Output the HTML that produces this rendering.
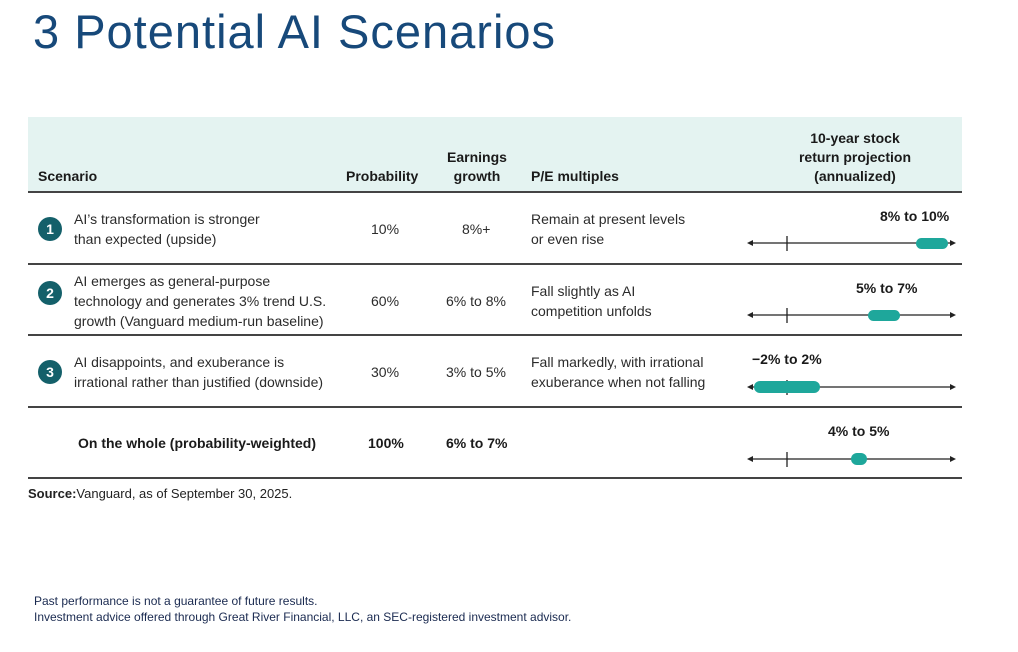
<!DOCTYPE html>
<html><head><meta charset="utf-8"><style>
body{margin:0;width:1018px;height:652px;background:#fff;position:relative;overflow:hidden;font-family:"Liberation Sans",sans-serif;color:#222}
.a{position:absolute;white-space:nowrap}
.t{font-size:14px;line-height:20px;color:#2b2b2b}
.b{font-weight:bold;font-size:14px;line-height:19px;color:#1a1a1a}
.c{text-align:center}
.hl{position:absolute;left:28px;width:934px;height:2px;background:#444}
.num{position:absolute;left:38px;width:24px;height:24px;border-radius:50%;background:#14606a;color:#fff;font-weight:bold;font-size:14px;line-height:24px;text-align:center}
</style></head><body>
<div class="a" style="left:33px;top:4px;font-size:47px;line-height:56px;color:#17497a;letter-spacing:1px">3 Potential AI Scenarios</div>
<div class="a" style="left:28px;top:117px;width:934px;height:75px;background:#e4f3f1"></div>
<div class="a b" style="left:38px;top:167px">Scenario</div>
<div class="a b" style="left:346px;top:167px">Probability</div>
<div class="a b c" style="left:440px;top:148px;width:74px">Earnings<br>growth</div>
<div class="a b" style="left:531px;top:167px">P/E multiples</div>
<div class="a b c" style="left:760px;top:129px;width:190px;line-height:19px">10-year stock<br>return projection<br>(annualized)</div>
<div class="hl" style="top:191px"></div>
<div class="hl" style="top:263px"></div>
<div class="hl" style="top:334px"></div>
<div class="hl" style="top:406px"></div>
<div class="hl" style="top:477px"></div>

<div class="num" style="top:217px">1</div>
<div class="a t" style="left:74px;top:209px">AI’s transformation is stronger<br>than expected (upside)</div>
<div class="a t" style="left:371px;top:219px">10%</div>
<div class="a t" style="left:462px;top:219px">8%+</div>
<div class="a t" style="left:531px;top:209px">Remain at present levels<br>or even rise</div>
<div class="a b" style="left:880px;top:207px">8% to 10%</div>

<div class="num" style="top:281px">2</div>
<div class="a t" style="left:74px;top:271px">AI emerges as general-purpose<br>technology and generates 3% trend U.S.<br>growth (Vanguard medium-run baseline)</div>
<div class="a t" style="left:371px;top:291px">60%</div>
<div class="a t" style="left:446px;top:291px">6% to 8%</div>
<div class="a t" style="left:531px;top:281px">Fall slightly as AI<br>competition unfolds</div>
<div class="a b" style="left:856px;top:279px">5% to 7%</div>

<div class="num" style="top:360px">3</div>
<div class="a t" style="left:74px;top:352px">AI disappoints, and exuberance is<br>irrational rather than justified (downside)</div>
<div class="a t" style="left:371px;top:362px">30%</div>
<div class="a t" style="left:446px;top:362px">3% to 5%</div>
<div class="a t" style="left:531px;top:352px">Fall markedly, with irrational<br>exuberance when not falling</div>
<div class="a b" style="left:752px;top:350px">−2% to 2%</div>

<div class="a b" style="left:78px;top:434px">On the whole (probability-weighted)</div>
<div class="a b" style="left:368px;top:434px">100%</div>
<div class="a b" style="left:446px;top:434px">6% to 7%</div>
<div class="a b" style="left:828px;top:422px">4% to 5%</div>

<svg class="a" style="left:0;top:0" width="1018" height="652">
<g stroke="#222" stroke-width="1.3" fill="#222">
<line x1="750" y1="243" x2="952" y2="243"/><line x1="787" y1="236" x2="787" y2="251"/>
<line x1="750" y1="315" x2="952" y2="315"/><line x1="787" y1="308" x2="787" y2="323"/>
<line x1="750" y1="387" x2="952" y2="387"/><line x1="787" y1="380" x2="787" y2="395"/>
<line x1="750" y1="459" x2="952" y2="459"/><line x1="787" y1="452" x2="787" y2="467"/>
<path stroke="none" d="M747 243l6-3v6zM956 243l-6-3v6zM747 315l6-3v6zM956 315l-6-3v6zM747 387l6-3v6zM956 387l-6-3v6zM747 459l6-3v6zM956 459l-6-3v6z"/>
</g>
<g fill="#1ea79b">
<rect x="916" y="238" width="32" height="11" rx="5.5"/>
<rect x="868" y="310" width="32" height="11" rx="5.5"/>
<rect x="754" y="381" width="66" height="12" rx="6"/>
<rect x="851" y="453" width="16" height="12" rx="6"/>
</g>
</svg>
<div class="a" style="left:28px;top:486px;font-size:13px;color:#222"><b>Source:</b>Vanguard, as of September 30, 2025.</div>
<div class="a" style="left:34px;top:593px;font-size:12px;line-height:16px;color:#1a2a50">Past performance is not a guarantee of future results.<br>Investment advice offered through Great River Financial, LLC, an SEC-registered investment advisor.</div>
</body></html>
